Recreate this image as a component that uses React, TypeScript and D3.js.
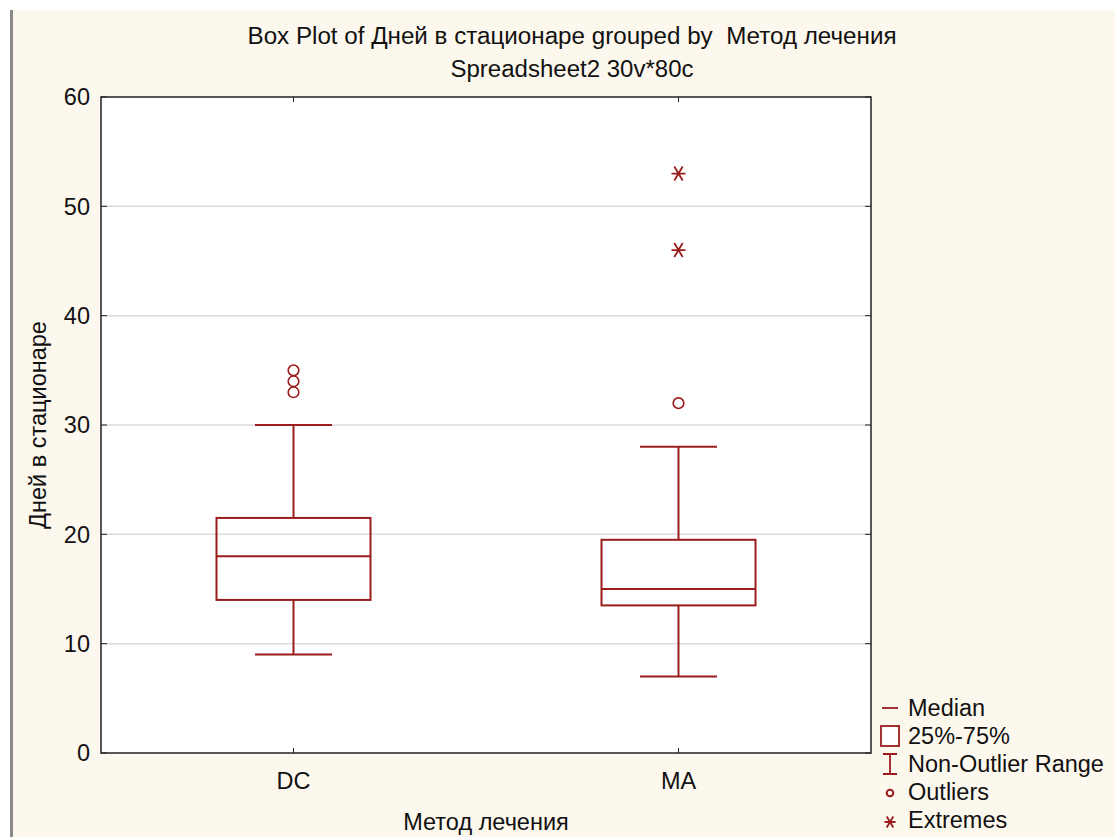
import { useRef, useEffect } from "react";
import * as d3 from "d3";

// Box plot summaries
const groups = ["DC", "MA"];
const q1 = [14, 13.5];
const median = [18, 15];
const q3 = [21.5, 19.5];
const whiskerLow = [9, 7];
const whiskerHigh = [30, 28];
const outliers = [[33, 34, 35], [32]];
const extremes = [[], [46, 53]];

const yTicks = [0, 10, 20, 30, 40, 50, 60];
const legendItems = ["Median", "25%-75%", "Non-Outlier Range", "Outliers", "Extremes"];

const RED = "#9b1c1c";
const BG = "#fdf8ee";
const FONT = "Liberation Sans, Arial, sans-serif";
const FS = 23.5;

export default function App() {
  const svgRef = useRef<SVGSVGElement>(null);
  const W = 1115;
  const H = 837;
  const margin = { top: 97, right: 244, bottom: 84, left: 101 };

  useEffect(() => {
    if (!svgRef.current) return;
    const svg = d3.select(svgRef.current);
    svg.selectAll("*").remove();

    const innerW = W - margin.left - margin.right;
    const innerH = H - margin.top - margin.bottom;

    // background + left frame strip
    svg.append("rect").attr("width", W).attr("height", H).attr("fill", "#ffffff");
    svg.append("rect").attr("x", 12).attr("y", 10).attr("width", W - 12).attr("height", H - 10).attr("fill", BG);
    svg.append("rect").attr("x", 10).attr("y", 10).attr("width", 3).attr("height", H - 10).attr("fill", "#8a8a8a");

    const x = d3.scalePoint().domain(groups).range([0, innerW]).padding(0.5);
    const y = d3.scaleLinear().domain([0, 60]).range([innerH, 0]);

    const g = svg.append("g").attr("transform", `translate(${margin.left},${margin.top})`);
    g.append("rect").attr("width", innerW).attr("height", innerH).attr("fill", "#ffffff");

    // gridlines
    for (const t of yTicks.slice(1, -1)) {
      g.append("line")
        .attr("x1", 0).attr("x2", innerW)
        .attr("y1", y(t)).attr("y2", y(t))
        .attr("stroke", "#dcdcdc").attr("stroke-width", 1.5);
    }

    // axis frame
    g.append("rect").attr("width", innerW).attr("height", innerH)
      .attr("fill", "none").attr("stroke", "#222").attr("stroke-width", 1.5);

    // y ticks and labels
    for (const t of yTicks) {
      g.append("line").attr("x1", 0).attr("x2", 6).attr("y1", y(t)).attr("y2", y(t)).attr("stroke", "#222");
      g.append("line").attr("x1", innerW - 6).attr("x2", innerW).attr("y1", y(t)).attr("y2", y(t)).attr("stroke", "#222");
      g.append("text")
        .attr("x", -11).attr("y", y(t))
        .attr("dy", "0.35em")
        .attr("text-anchor", "end")
        .attr("font-family", FONT).attr("font-size", FS).attr("fill", "#111")
        .text(t);
    }

    const boxW = innerW * 0.2;
    const capW = boxW / 2;

    groups.forEach((grp, i) => {
      const cx = x(grp)!;
      // x ticks top and bottom
      g.append("line").attr("x1", cx).attr("x2", cx).attr("y1", innerH).attr("y2", innerH - 5).attr("stroke", "#222");
      g.append("line").attr("x1", cx).attr("x2", cx).attr("y1", 0).attr("y2", 5).attr("stroke", "#222");
      g.append("text")
        .attr("x", cx).attr("y", innerH + 36)
        .attr("text-anchor", "middle")
        .attr("font-family", FONT).attr("font-size", FS).attr("fill", "#111")
        .text(grp);

      // whiskers
      g.append("line").attr("x1", cx).attr("x2", cx).attr("y1", y(q3[i])).attr("y2", y(whiskerHigh[i]))
        .attr("stroke", RED).attr("stroke-width", 2);
      g.append("line").attr("x1", cx).attr("x2", cx).attr("y1", y(q1[i])).attr("y2", y(whiskerLow[i]))
        .attr("stroke", RED).attr("stroke-width", 2);
      for (const v of [whiskerHigh[i], whiskerLow[i]]) {
        g.append("line").attr("x1", cx - capW / 2).attr("x2", cx + capW / 2).attr("y1", y(v)).attr("y2", y(v))
          .attr("stroke", RED).attr("stroke-width", 2);
      }
      // box
      g.append("rect")
        .attr("x", cx - boxW / 2).attr("y", y(q3[i]))
        .attr("width", boxW).attr("height", y(q1[i]) - y(q3[i]))
        .attr("fill", "none").attr("stroke", RED).attr("stroke-width", 2);
      g.append("line").attr("x1", cx - boxW / 2).attr("x2", cx + boxW / 2)
        .attr("y1", y(median[i])).attr("y2", y(median[i]))
        .attr("stroke", RED).attr("stroke-width", 2);

      for (const v of outliers[i]) {
        g.append("circle").attr("cx", cx).attr("cy", y(v)).attr("r", 5.3)
          .attr("fill", "none").attr("stroke", RED).attr("stroke-width", 1.6);
      }
      for (const v of extremes[i]) {
        const s = 7;
        const path = `M${-s},0L${s},0M${-s * 0.6},${-s}L${s * 0.6},${s}M${-s * 0.6},${s}L${s * 0.6},${-s}`;
        g.append("path").attr("transform", `translate(${cx},${y(v)})`).attr("d", path)
          .attr("stroke", RED).attr("stroke-width", 1.8).attr("fill", "none");
      }
    });

    // titles
    svg.append("text")
      .attr("x", 572).attr("y", 44)
      .attr("text-anchor", "middle")
      .attr("xml:space", "preserve")
      .style("white-space", "pre")
      .attr("font-family", "Liberation Sans Narrow, Arial Narrow, sans-serif")
      .attr("font-size", 23).attr("fill", "#111")
      .attr("textLength", 649).attr("lengthAdjust", "spacingAndGlyphs")
      .text("Box Plot of Дней в стационаре grouped by  Метод лечения");
    svg.append("text")
      .attr("x", 572).attr("y", 77)
      .attr("text-anchor", "middle")
      .attr("font-family", "Liberation Sans Narrow, Arial Narrow, sans-serif")
      .attr("font-size", 23).attr("fill", "#111")
      .attr("textLength", 243).attr("lengthAdjust", "spacingAndGlyphs")
      .text("Spreadsheet2 30v*80c");

    // axis titles
    svg.append("text")
      .attr("transform", `translate(46,${margin.top + innerH / 2}) rotate(-90)`)
      .attr("text-anchor", "middle")
      .attr("font-family", FONT).attr("font-size", FS).attr("fill", "#111")
      .text("Дней в стационаре");
    svg.append("text")
      .attr("x", margin.left + innerW / 2).attr("y", 830)
      .attr("text-anchor", "middle")
      .attr("font-family", FONT).attr("font-size", FS).attr("fill", "#111")
      .text("Метод лечения");

    // legend
    const lx = 880;
    const ly = d3.scalePoint().domain(legendItems).range([708, 820]);
    legendItems.forEach((item, k) => {
      const yy = ly(item)!;
      const mx = lx + 10;
      if (k === 0) {
        svg.append("line").attr("x1", mx - 8).attr("x2", mx + 8).attr("y1", yy).attr("y2", yy)
          .attr("stroke", RED).attr("stroke-width", 1.8);
      } else if (k === 1) {
        svg.append("rect").attr("x", mx - 9).attr("y", yy - 10).attr("width", 18).attr("height", 20)
          .attr("fill", "#fff").attr("stroke", RED).attr("stroke-width", 1.8);
      } else if (k === 2) {
        svg.append("path").attr("d", `M${mx - 7},${yy - 10}H${mx + 7}M${mx},${yy - 10}V${yy + 10}M${mx - 7},${yy + 10}H${mx + 7}`)
          .attr("stroke", RED).attr("stroke-width", 1.8).attr("fill", "none");
      } else if (k === 3) {
        svg.append("circle").attr("cx", mx).attr("cy", yy + 1).attr("r", 3.3)
          .attr("fill", "none").attr("stroke", RED).attr("stroke-width", 2);
      } else {
        const s = 5.5;
        svg.append("path").attr("transform", `translate(${mx},${yy + 2})`)
          .attr("d", `M${-s},0L${s},0M${-s * 0.6},${-s}L${s * 0.6},${s}M${-s * 0.6},${s}L${s * 0.6},${-s}`)
          .attr("stroke", RED).attr("stroke-width", 1.8).attr("fill", "none");
      }
      svg.append("text")
        .attr("x", lx + 28).attr("y", yy).attr("dy", "0.35em")
        .attr("font-family", FONT).attr("font-size", FS).attr("fill", "#111")
        .text(item);
    });
  }, []);

  return (
    <svg
      ref={svgRef}
      width={W}
      height={H}
      viewBox={`0 0 ${W} ${H}`}
      style={{ position: "absolute", left: 0, top: 0, display: "block" }}
    />
  );
}
